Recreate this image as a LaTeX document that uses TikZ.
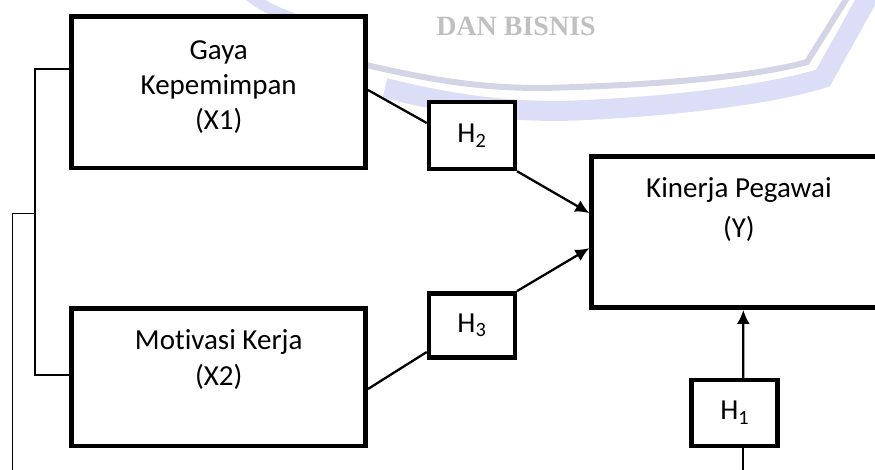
\documentclass[tikz,border=0pt]{standalone}
\usepackage{fontspec}
\setmainfont{Carlito}[Ligatures={NoCommon}]
\newfontfamily\wmfont{Liberation Serif}
\usetikzlibrary{arrows.meta}
\definecolor{lav}{RGB}{219,222,246}
\definecolor{lavd}{RGB}{211,213,230}
\definecolor{wmgray}{RGB}{192,192,192}
\begin{document}
\begin{tikzpicture}[x=1pt,y=-1pt,
  box/.style={draw, line width=4.5pt, fill=white, inner sep=0pt},
  lbl/.style={align=center, inner sep=0pt},
  hlbl/.style={font=\fontsize{29}{35}\selectfont},
  conn/.style={line width=2.3pt},
  arr/.style={conn, -{Latex[length=14pt,width=13pt]}},
  bracket/.style={line width=1.5pt},
  wm/.style={font=\wmfont\bfseries\fontsize{28}{30}\selectfont, text=wmgray, inner sep=0pt}]
\useasboundingbox (0,0) rectangle (875,470);
\clip (0,0) rectangle (875,470);
% watermark
\draw[lav, line width=11pt, line cap=round] (245,-8) .. controls (260,5) and (275,12) .. (292,18);
\draw[lav, line width=20pt] (385,88) .. controls (450,104) and (500,111) .. (560,111)
  .. controls (660,108) and (770,95) .. (823,78) -- (872,-10);
\draw[lavd, line width=6pt] (362,64) .. controls (430,80) and (480,88) .. (540,88)
  .. controls (640,86) and (750,78) .. (807,62) -- (852,-10);
\node[wm] (wmt) at (516,26) {DAN BISNIS};
% boxes
\node[box, minimum width=294pt, minimum height=151.5pt] (x1) at (218.7,92.25) {};
\node[box, minimum width=294pt, minimum height=137.5pt] (x2) at (218.7,377) {};
\node[box, minimum width=294.4pt, minimum height=151.2pt] (y) at (738.9,232.1) {};
\node[box, hlbl, minimum width=85.8pt, minimum height=67pt] (h2) at (471.9,135.5) {H\textsubscript{2}};
\node[box, hlbl, minimum width=85.8pt, minimum height=64.2pt] (h3) at (471.9,325.4) {H\textsubscript{3}};
\node[box, hlbl, minimum width=86pt, minimum height=65.8pt] (h1) at (734.7,412.9) {H\textsubscript{1}};
% texts
\node[lbl, font=\fontsize{29}{35}\selectfont] (x1t) at (218.7,87) {Gaya\\Kepemimpan\\(X1)};
\node[lbl, font=\fontsize{29}{36}\selectfont] (x2t) at (218.7,359.5) {Motivasi Kerja\\(X2)};
\node[lbl, font=\fontsize{29}{40}\selectfont] (yt) at (738.9,210) {Kinerja Pegawai\\(Y)};
% connectors
\draw[conn] ([yshift=2.25pt]x1.east) -- ([yshift=12.5pt]h2.west);
\draw[arr] (h2.south east) -- ([yshift=19pt]y.west);
\draw[conn] ([yshift=-12pt]x2.east) -- ([yshift=-26.6pt]h3.west);
\draw[arr] (h3.north east) -- ([yshift=-16pt]y.west);
\draw[arr] ([xshift=8.6pt]h1.north) -- ([xshift=4.4pt]y.south);
\coordinate (h1end) at (743.3,480);
\draw[conn] ([xshift=8.6pt]h1.south) -- (h1end);
% bracket
\coordinate (b1) at (35,69);
\coordinate (b2) at (35,375);
\coordinate (bm) at (35,213.3);
\coordinate (bo) at (12.3,213.3);
\coordinate (bend) at (12.3,480);
\draw[bracket] ([yshift=23.25pt]x1.west) -- (b1) -- (b2) -- ([yshift=2pt]x2.west);
\draw[bracket] (bm) -- (bo) -- (bend);
\end{tikzpicture}
\end{document}
